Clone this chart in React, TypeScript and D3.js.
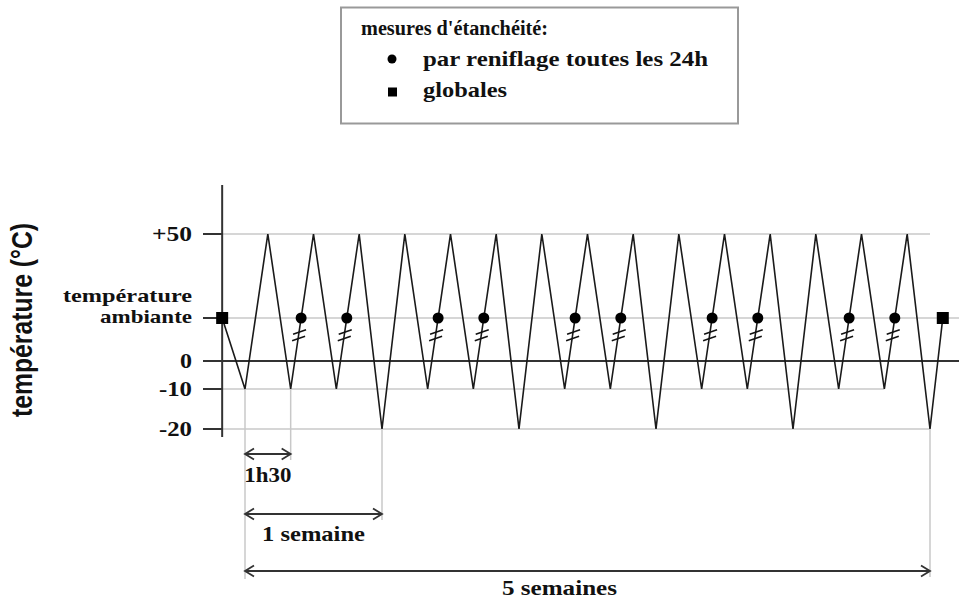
import * as d3 from 'd3';

// Schematic thermal cycling test, values in °C (the vertical scale is not linear)
const AMBIENT = 20;
const HIGH = 50;
// low point reached by each cycle (cycle index = time unit of 1h30)
const cycleLows = [-10, -10, -10, -20, -10, -10, -20, -10, -10, -20, -10, -10, -20, -10, -10, -20];
const startTime = -0.5;
const endTime = 15.28;
// cycles after which a sniffing leak test is made (every 24h)
const sniffCycles = [1, 2, 4, 5, 7, 8, 10, 11, 13, 14];
// global leak tests
const globalTimes = [startTime, endTime];

const yTicks = [50, AMBIENT, 0, -10, -20];
const yTickLabels = [['+50'], ['température', 'ambiante'], ['0'], ['-10'], ['-20']];

// gridlines: value and the time they stop at (null = right edge)
const gridValues = [50, AMBIENT, -10, -20];
const gridEnds = [15, null, 14, 15];

const durations = [
  { label: '1h30', from: 0, to: 1 },
  { label: '1 semaine', from: 0, to: 3 },
  { label: '5 semaines', from: 0, to: 15 },
];

const legendTitle = "mesures d'étanchéité:";
const legendItems = [
  { shape: 'circle', label: 'par reniflage toutes les 24h' },
  { shape: 'square', label: 'globales' },
];

const yTitle = 'température (°C)';

// ---- layout -------------------------------------------------------------
const W = 959;
const H = 602;
const SERIF = '"Liberation Serif", "Times New Roman", serif';
const SANS = '"Liberation Sans", Arial, sans-serif';
const GRID = '#c8c8c8';
const DARK = '#333';

// measured widths of the (wide) bitmap lettering
const textWidths: Record<string, number> = {
  '+50': 40, 'température': 129, 'ambiante': 92, '0': 12, '-10': 33, '-20': 33,
  '1h30': 47, '1 semaine': 103, '5 semaines': 115,
  "mesures d'étanchéité:": 187, 'par reniflage toutes les 24h': 285, 'globales': 84,
};
const durationLayout = [
  { arrowY: 454, textY: 482, dx: 0 },
  { arrowY: 514, textY: 541, dx: 0 },
  { arrowY: 571, textY: 595, dx: -28 },
];

const x = d3.scaleLinear().domain([0, 15]).range([245, 930]);
const y = d3.scaleLinear().domain([-20, -10, 0, AMBIENT, 50]).range([429, 389, 361, 318, 234]);

const axisX = x(startTime);
const tickLeft = 203;

// temperature profile vertices
const profile: [number, number][] = [[startTime, AMBIENT]];
cycleLows.forEach((low, i) => {
  profile.push([i, low]);
  if (i < cycleLows.length - 1) profile.push([i + 0.5, HIGH]);
});
profile.push([endTime, AMBIENT]);

const line = d3.line<[number, number]>()
  .x(d => x(d[0]))
  .y(d => y(d[1]));

// x position of the rising edge after cycle c at pixel height py
const risingX = (c: number, py: number) => {
  const x0 = x(c), y0 = y(cycleLows[c]);
  const x1 = x(c + 0.5), y1 = y(HIGH);
  return x0 + ((y0 - py) / (y0 - y1)) * (x1 - x0);
};

const Txt = ({ t, ...rest }: any) => (
  <text {...rest} textLength={textWidths[t]} lengthAdjust="spacingAndGlyphs">{t}</text>
);

const Arrow = ({ x1, x2, yy }: { x1: number; x2: number; yy: number }) => (
  <g stroke={DARK} strokeWidth={1.8} fill="none">
    <line x1={x1} x2={x2} y1={yy} y2={yy} />
    <polyline points={`${x1 + 9},${yy - 5.5} ${x1},${yy} ${x1 + 9},${yy + 5.5}`} />
    <polyline points={`${x2 - 9},${yy - 5.5} ${x2},${yy} ${x2 - 9},${yy + 5.5}`} />
  </g>
);

export default function App() {
  const ya = y(AMBIENT);
  const lowest = Math.max(...durationLayout.map(d => d.arrowY));

  return (
    <svg width={W} height={H} style={{ position: 'absolute', left: 0, top: 0, background: '#fff' }}>
      {/* legend */}
      <rect x={341} y={7.5} width={397} height={116} fill="#fff" stroke="#999" strokeWidth={2} />
      <Txt t={legendTitle} x={361} y={35} fontFamily={SERIF} fontWeight="bold" fontSize={20} fill="#111" />
      {legendItems.map((item, i) => {
        const ry = 66 + i * 31;
        return (
          <g key={item.label}>
            {item.shape === 'circle'
              ? <circle cx={392} cy={ry - 7} r={4.5} fill="#000" />
              : <rect x={388} y={ry - 9.5} width={9} height={9} fill="#000" />}
            <Txt t={item.label} x={423} y={ry} fontFamily={SERIF} fontWeight="bold" fontSize={22} fill="#111" />
          </g>
        );
      })}

      {/* gridlines */}
      {gridValues.map((v, i) => (
        <line key={v} x1={axisX} x2={gridEnds[i] === null ? W : x(gridEnds[i] as number)}
          y1={y(v)} y2={y(v)} stroke={GRID} strokeWidth={1.5} />
      ))}

      {/* dimension extension lines */}
      <line x1={x(0)} x2={x(0)} y1={y(cycleLows[0])} y2={lowest + 8} stroke={GRID} strokeWidth={1.5} />
      {durations.map((d, i) => (
        <line key={d.label} x1={x(d.to)} x2={x(d.to)} y1={y(cycleLows[d.to])}
          y2={durationLayout[i].arrowY + 6} stroke={GRID} strokeWidth={1.5} />
      ))}

      {/* axes */}
      <line x1={tickLeft} x2={W} y1={y(0)} y2={y(0)} stroke={DARK} strokeWidth={2} />
      <line x1={axisX} x2={axisX} y1={185} y2={437} stroke={DARK} strokeWidth={2} />
      {yTicks.map((v, i) => (
        <g key={v}>
          <line x1={tickLeft} x2={axisX} y1={y(v)} y2={y(v)} stroke={DARK} strokeWidth={2} />
          {yTickLabels[i].map((lab, j, arr) => {
            const multi = arr.length > 1;
            return (
              <Txt key={lab} t={lab} x={192} y={y(v) + 7 - (arr.length - 1 - j) * 21 - (multi ? 2 : 0)}
                textAnchor="end" fontFamily={SERIF} fontWeight="bold" fontSize={multi ? 19 : 21} fill="#111" />
            );
          })}
        </g>
      ))}
      <text transform={`translate(32,${(223 + 417) / 2}) scale(1.25,1) rotate(-90)`} textAnchor="middle"
        fontFamily={SANS} fontWeight="bold" fontSize={23} fill="#111"
        textLength={194} lengthAdjust="spacingAndGlyphs">{yTitle}</text>

      {/* temperature profile */}
      <path d={line(profile) ?? ''} fill="none" stroke="#1a1a1a" strokeWidth={1.6} strokeLinejoin="miter" />

      {/* sniffing tests with break marks */}
      {sniffCycles.map(c => {
        const cx = risingX(c, ya);
        return (
          <g key={c}>
            {[14, 20.5].map(dy => {
              const yb = ya + dy;
              const xb = risingX(c, yb) + 0.5;
              return <line key={dy} x1={xb - 6.5} y1={yb + 2.2} x2={xb + 6.5} y2={yb - 2.2}
                stroke="#111" strokeWidth={1.5} />;
            })}
            <circle cx={cx} cy={ya} r={5.5} fill="#000" />
          </g>
        );
      })}

      {/* global tests */}
      {globalTimes.map(t => (
        <rect key={t} x={x(t) - 6} y={ya - 6} width={12} height={12} fill="#000" />
      ))}

      {/* durations */}
      {durations.map((d, i) => {
        const L = durationLayout[i];
        return (
          <g key={d.label}>
            <Arrow x1={x(d.from)} x2={x(d.to)} yy={L.arrowY} />
            <Txt t={d.label} x={(x(d.from) + x(d.to)) / 2 + L.dx} y={L.textY} textAnchor="middle"
              fontFamily={SERIF} fontWeight="bold" fontSize={21} fill="#111" />
          </g>
        );
      })}
    </svg>
  );
}
